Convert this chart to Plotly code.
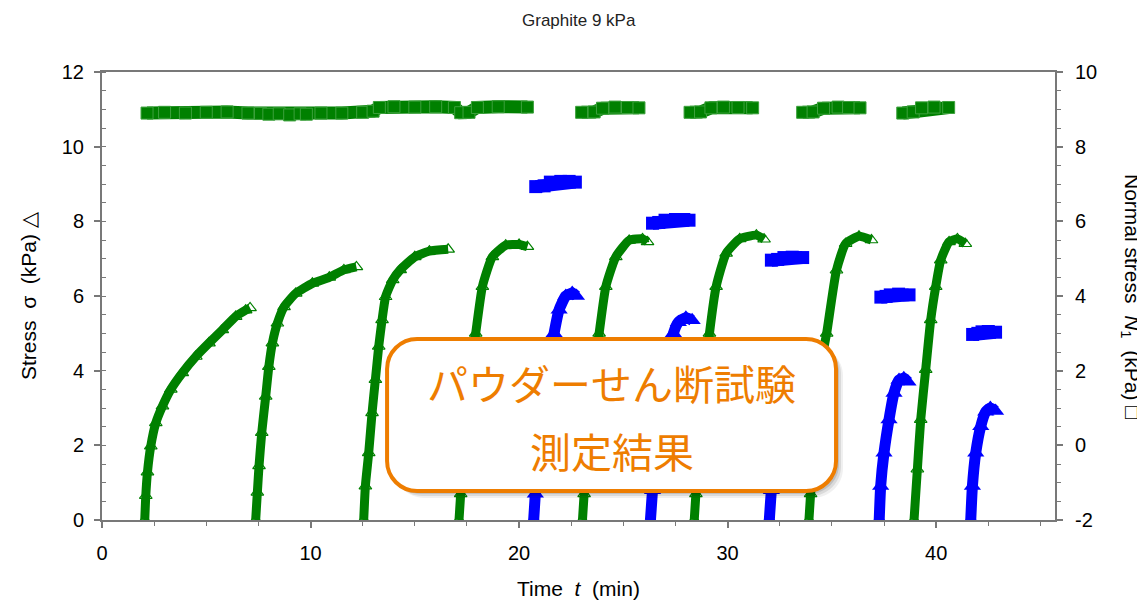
import plotly.graph_objects as go

# ---------------- data ----------------
# Pre-shear stress sigma (kPa, left axis) - green triangles; None separates runs
pre_stress_t = [2.05, 2.10, 2.18, 2.34, 2.58, 2.90, 3.30, 3.85, 4.50, 5.13, 5.77, 6.41, 6.89, 7.10, None,
                7.37, 7.45, 7.53, 7.66, 7.85, 8.00, 8.17, 8.41, 8.73, 9.29, 10.09, 10.90, 11.60, 12.20, None,
                12.55, 12.63, 12.79, 12.95, 13.11, 13.27, 13.43, 13.60, 13.94, 14.30, 15.00, 15.70, 16.60, None,
                17.12, 17.20, 17.35, 17.50, 17.65, 17.92, 18.24, 18.72, 19.36, 20.00, 20.40, None,
                23.04, 23.12, 23.30, 23.50, 23.70, 23.84, 24.16, 24.64, 25.28, 25.92, 26.16, None,
                28.40, 28.48, 28.65, 28.85, 29.00, 29.13, 29.45, 29.93, 30.58, 31.38, 31.75, None,
                33.90, 33.98, 34.15, 34.35, 34.55, 34.75, 35.22, 35.66, 36.30, 36.90, None,
                38.94, 39.10, 39.26, 39.50, 39.74, 39.98, 40.22, 40.62, 41.02, 41.40]
pre_stress = [0.00, 0.65, 1.28, 1.98, 2.60, 3.05, 3.50, 3.94, 4.38, 4.74, 5.09, 5.45, 5.62, 5.68, None,
              0.00, 0.74, 1.45, 2.34, 3.31, 4.11, 4.74, 5.27, 5.71, 6.07, 6.34, 6.50, 6.70, 6.78, None,
              0.00, 0.91, 1.80, 2.87, 3.76, 4.65, 5.36, 5.98, 6.43, 6.70, 7.05, 7.20, 7.25, None,
              0.00, 0.70, 1.80, 2.90, 3.90, 5.00, 6.25, 7.05, 7.36, 7.38, 7.32, None,
              0.00, 0.70, 2.00, 3.30, 4.40, 5.00, 6.25, 7.05, 7.49, 7.53, 7.45, None,
              0.00, 0.70, 2.00, 3.30, 4.30, 5.00, 6.25, 7.14, 7.53, 7.63, 7.52, None,
              0.00, 0.70, 2.00, 3.30, 4.40, 5.00, 6.69, 7.40, 7.60, 7.50, None,
              0.00, 1.36, 2.69, 4.03, 5.36, 6.25, 6.96, 7.45, 7.53, 7.40]

# Shear stress sigma (kPa, left axis) - blue triangles
shear_stress_t = [20.70, 20.78, 20.95, 21.15, 21.40, 21.68, 21.92, 22.24, 22.55, 22.75, None,
                  26.30, 26.40, 26.60, 26.85, 27.10, 27.40, 27.64, 28.00, 28.30, None,
                  32.00, 32.10, 32.30, 32.55, 32.80, 33.10, 33.40, 33.65, None,
                  37.27, 37.34, 37.50, 37.74, 37.98, 38.22, 38.45, 38.65, None,
                  41.66, 41.74, 41.90, 42.14, 42.38, 42.60, 42.85]
shear_stress = [0.00, 0.70, 1.80, 2.90, 4.00, 5.00, 5.63, 6.00, 6.08, 6.00, None,
                0.00, 0.80, 2.00, 3.20, 4.20, 5.00, 5.30, 5.42, 5.35, None,
                0.00, 0.80, 1.90, 2.90, 3.80, 4.40, 4.60, 4.55, None,
                0.00, 0.91, 1.80, 2.69, 3.40, 3.75, 3.80, 3.70, None,
                0.00, 0.91, 1.80, 2.51, 2.90, 3.00, 2.92]

# Pre-shear normal stress N1 (kPa, right axis) - green squares
pre_N1_t = [2.16, 3.0, 4.0, 5.0, 6.0, 7.0, 7.6, 8.0, 8.5, 9.0, 9.5, 9.8, 10.5, 11.5, 12.5, 13.0, 13.3,
            14.0, 15.0, 16.0, 16.9, 17.2, 17.6, 18.0, 19.0, 20.4, None,
            23.0, 23.6, 24.0, 24.6, 25.2, 25.75, None,
            28.2, 28.7, 29.2, 29.8, 30.5, 31.2, None,
            33.6, 34.1, 34.6, 35.3, 35.8, 36.35, None,
            38.4, 38.9, 39.3, 39.9, 40.6]
pre_N1 = [8.90, 8.92, 8.90, 8.92, 8.93, 8.90, 8.89, 8.87, 8.88, 8.85, 8.88, 8.87, 8.90, 8.90, 8.92, 8.95, 9.05,
          9.07, 9.06, 9.07, 9.05, 8.91, 8.92, 9.05, 9.07, 9.06, None,
          8.92, 8.93, 9.03, 9.06, 9.05, 9.04, None,
          8.92, 8.93, 9.04, 9.06, 9.05, 9.04, None,
          8.92, 8.93, 9.03, 9.06, 9.05, 9.04, None,
          8.90, 8.93, 9.04, 9.06, 9.05]

# Shear normal stress N1 (kPa, right axis) - blue squares
shear_N1_t = [20.8, 21.2, 21.5, 22.0, 22.4, 22.7, None,
              26.4, 26.7, 27.0, 27.5, 27.9, 28.15, None,
              32.1, 32.4, 32.7, 33.1, 33.6, None,
              37.35, 37.6, 37.8, 38.2, 38.7, None,
              41.75, 42.0, 42.2, 42.5, 42.85]
shear_N1 = [6.93, 6.95, 7.05, 7.07, 7.07, 7.05, None,
            5.95, 5.97, 6.03, 6.05, 6.05, 6.03, None,
            4.96, 4.98, 5.03, 5.04, 5.03, None,
            3.97, 3.99, 4.03, 4.05, 4.03, None,
            2.97, 3.00, 3.04, 3.05, 3.03]

left_ticks = [0, 2, 4, 6, 8, 10, 12]
right_ticks = [-2, 0, 2, 4, 6, 8, 10]
right_ticktext = ["-2", "0", "2", "4", "6", "8", "10"]
x_ticks = [0, 10, 20, 30, 40]

GREEN = "rgb(0,128,0)"
BLUE = "rgb(0,0,255)"
ORANGE = "rgb(238,125,0)"
AXIS = "rgb(120,120,120)"
FONT = "Liberation Sans, Arial, sans-serif"

# the page body adds an 8px offset; the figure is sized so the plot lands where the reference has it
BODY = 8
W, H = 1145 - BODY, 600 - BODY
ML, MR, MT, MB = 102 - BODY, 90, 72 - BODY, 80

fig = go.Figure()

fig.add_trace(go.Scatter(
    x=pre_N1_t, y=pre_N1, yaxis="y2", mode="lines+markers",
    line=dict(color=GREEN, width=13), connectgaps=False,
    marker=dict(symbol="square", size=12, color=GREEN, line=dict(width=1, color="rgb(60,160,60)")),
    showlegend=False))
fig.add_trace(go.Scatter(
    x=shear_N1_t, y=shear_N1, yaxis="y2", mode="lines+markers",
    line=dict(color=BLUE, width=13), connectgaps=False,
    marker=dict(symbol="square", size=13, color=BLUE),
    showlegend=False))
fig.add_trace(go.Scatter(
    x=pre_stress_t, y=pre_stress, mode="lines+markers",
    line=dict(color=GREEN, width=9, shape="spline", smoothing=0.5), connectgaps=False,
    marker=dict(symbol="triangle-up-open", size=11, color=GREEN, line=dict(width=1.2)),
    showlegend=False))
fig.add_trace(go.Scatter(
    x=shear_stress_t, y=shear_stress, mode="lines+markers",
    line=dict(color=BLUE, width=11, shape="spline", smoothing=0.5), connectgaps=False,
    marker=dict(symbol="triangle-up", size=15, color=BLUE),
    showlegend=False))

# ---- rounded callout box (data coords) ----
x0, x1, y0, y1 = 13.67, 35.2, 0.776, 4.85
px_x = 1 / 20.85
px_y = 1 / 37.36
rx, ry = 30 * px_x, 30 * px_y
k = 0.45


def rrect(a0, a1, b0, b1):
    return (f"M {a0+rx},{b1} L {a1-rx},{b1} "
            f"C {a1-rx*k},{b1} {a1},{b1-ry*k} {a1},{b1-ry} "
            f"L {a1},{b0+ry} "
            f"C {a1},{b0+ry*k} {a1-rx*k},{b0} {a1-rx},{b0} "
            f"L {a0+rx},{b0} "
            f"C {a0+rx*k},{b0} {a0},{b0+ry*k} {a0},{b0+ry} "
            f"L {a0},{b1-ry} "
            f"C {a0},{b1-ry*k} {a0+rx*k},{b1} {a0+rx},{b1} Z")


shapes = []
for off, alpha in [(7, 0.06), (5, 0.09), (3, 0.12)]:
    shapes.append(dict(type="path", xref="x", yref="y", layer="above",
                       path=rrect(x0 + off * px_x, x1 + off * px_x, y0 - off * px_y, y1 - off * px_y),
                       fillcolor=f"rgba(0,0,0,{alpha})", line=dict(width=0)))
shapes.append(dict(type="path", xref="x", yref="y", layer="above",
                   path=rrect(x0, x1, y0, y1), fillcolor="white",
                   line=dict(color=ORANGE, width=4)))

annotations = [
    dict(text="パウダーせん断試験", x=(x0 + x1) / 2, y=(520 - 382) / 37.36, xref="x", yref="y",
         showarrow=False, font=dict(family="Noto Sans CJK JP", size=41, color=ORANGE),
         xanchor="center", yanchor="middle"),
    dict(text="測定結果", x=(x0 + x1) / 2, y=(520 - 450) / 37.36, xref="x", yref="y",
         showarrow=False, font=dict(family="Noto Sans CJK JP", size=41, color=ORANGE),
         xanchor="center", yanchor="middle"),
    dict(text="Stress\u00a0\u00a0σ\u00a0\u00a0(kPa)\u00a0△", x=0, y=0.5, xref="paper", yref="paper",
         xanchor="center", yanchor="middle", textangle=-90, xshift=-74, showarrow=False,
         font=dict(family=FONT, size=21, color="black")),
    dict(text="Normal stress\u00a0\u00a0<i>N</i><sub>1</sub>\u00a0\u00a0(kPa)\u00a0□", x=1.0, y=0.5,
         xref="paper", yref="paper", xanchor="center", yanchor="middle", textangle=90,
         xshift=76, showarrow=False, font=dict(family=FONT, size=21, color="black")),
    dict(text="Time\u00a0\u00a0<i>t</i>\u00a0\u00a0(min)", x=0.5, y=0, xref="paper", yref="paper",
         xanchor="center", yanchor="middle", yshift=-68, showarrow=False,
         font=dict(family=FONT, size=21, color="black")),
    dict(text="Graphite 9 kPa", x=0.5, y=1, xref="paper", yref="paper", xanchor="center",
         yanchor="middle", yshift=52, showarrow=False,
         font=dict(family=FONT, size=17, color="#222222")),
]

fig.update_layout(
    width=W, height=H,
    margin=dict(l=ML, r=MR, t=MT, b=MB, autoexpand=False),
    paper_bgcolor="white", plot_bgcolor="white",
    showlegend=False,
    font=dict(family=FONT, size=20, color="black"),
    xaxis=dict(range=[0, 45.7], tickvals=x_ticks, showgrid=False, zeroline=False,
               showline=True, linecolor=AXIS, linewidth=2, mirror=True,
               ticks="outside", ticklen=6, tickcolor=AXIS, tickwidth=1.5,
               minor=dict(dtick=2.5, tick0=0, ticks="outside", ticklen=4, tickcolor=AXIS, tickwidth=1.2),
               tickfont=dict(size=20), ticklabelstandoff=8),
    yaxis=dict(range=[0, 12], tickvals=left_ticks, showgrid=False, zeroline=False,
               showline=True, linecolor=AXIS, linewidth=2,
               ticks="outside", ticklen=6, tickcolor=AXIS, tickwidth=1.5,
               minor=dict(dtick=0.5, tick0=0, ticks="inside", ticklen=4, tickcolor=AXIS, tickwidth=1.2),
               tickfont=dict(size=20), ticklabelstandoff=6),
    yaxis2=dict(range=[-2, 10], tickvals=right_ticks, ticktext=right_ticktext, overlaying="y", side="right",
                showgrid=False, zeroline=False, showline=True, linecolor=AXIS, linewidth=2,
                ticks="outside", ticklen=6, tickcolor=AXIS, tickwidth=1.5,
                minor=dict(dtick=0.5, tick0=0, ticks="outside", ticklen=4, tickcolor=AXIS, tickwidth=1.2),
                tickfont=dict(size=20), ticklabelstandoff=8),
    shapes=shapes,
    annotations=annotations,
)

fig.write_html("out.html")
